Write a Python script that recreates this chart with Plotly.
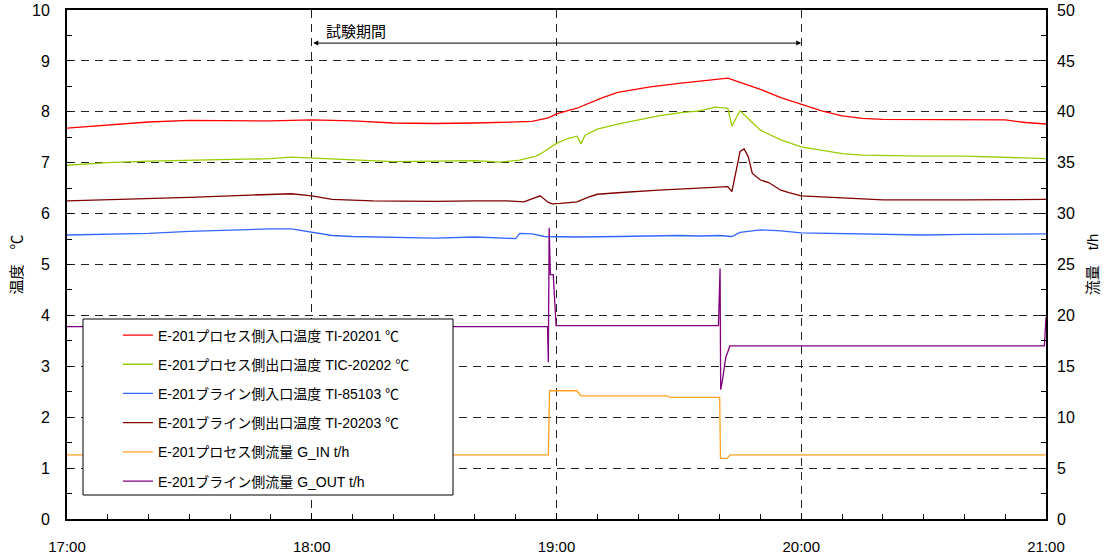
import pandas as pd
import plotly.graph_objects as go

BASE = pd.Timestamp("2023-01-01 17:00")

# --- data (minutes after 17:00, values) ---
red_min = [0,10,20,30,40,50,60,70,80,90,100,110,114,118,120,125,131,135,143,150,157,162,165,
           170,175,180,185,190,195,200,210,220,230,235,240]
red_val = [7.68,7.74,7.80,7.83,7.83,7.82,7.84,7.82,7.78,7.77,7.78,7.80,7.81,7.88,7.96,8.07,8.27,8.38,
           8.49,8.56,8.61,8.66,8.58,8.44,8.28,8.15,8.02,7.92,7.87,7.85,7.85,7.85,7.84,7.79,7.76]

green_min = [0,10,20,30,40,50,55,60,70,80,90,100,106,111,115,117,120,123,125,126,127,130,
             135,140,145,150,155,159,162,163,165,170,175,180,185,190,195,200,210,220,230,240]
green_val = [6.95,7.00,7.03,7.05,7.07,7.08,7.11,7.09,7.05,7.02,7.03,7.04,7.01,7.05,7.13,7.22,7.38,7.48,
             7.52,7.37,7.54,7.66,7.76,7.84,7.92,7.98,8.02,8.09,8.07,7.72,8.02,7.64,7.45,7.31,7.25,7.18,
             7.15,7.14,7.13,7.13,7.11,7.08]

blue_min = [0,10,20,30,40,50,55,60,65,70,80,90,100,105,110,111,114,117,125,135,140,150,155,160,
            163,165,170,175,180,190,200,210,220,230,240]
blue_val = [5.58,5.60,5.61,5.65,5.68,5.70,5.70,5.64,5.57,5.55,5.53,5.52,5.54,5.52,5.51,5.61,5.60,5.55,
            5.54,5.55,5.56,5.57,5.56,5.57,5.55,5.63,5.68,5.66,5.62,5.61,5.59,5.58,5.59,5.60,5.60]

dred_min = [0,10,20,30,40,50,55,60,65,75,90,100,108,112,115,116,118,119,121,125,128,130,135,140,
            145,150,155,160,162,163,165,166,167,168,170,172,175,177,180,185,190,195,200,220,240]
dred_val = [6.25,6.27,6.29,6.32,6.35,6.38,6.39,6.35,6.28,6.25,6.24,6.25,6.25,6.23,6.33,6.35,6.22,6.19,
            6.20,6.23,6.33,6.38,6.41,6.44,6.46,6.48,6.50,6.52,6.53,6.43,7.22,7.27,7.12,6.79,6.66,6.61,
            6.46,6.41,6.35,6.33,6.31,6.29,6.27,6.27,6.28]

gin_min = [0,118.0,118.3,125.0,126.0,147.0,148.0,160.0,160.2,161.8,162.6,240]
gin_val = [6.3,6.3,12.6,12.6,12.1,12.1,11.95,11.95,5.95,5.95,6.3,6.3]

gout_min = [0,117.8,118.0,118.2,118.5,119.2,119.9,159.7,160.1,160.25,160.7,161.5,161.9,162.5,239.6,240]
gout_val = [18.9,18.9,15.4,28.6,24.0,24.0,19.0,19.0,24.6,12.7,13.7,15.9,16.3,17.0,17.0,19.8]

names = ["E-201プロセス側入口温度 TI-20201 ℃",
         "E-201プロセス側出口温度 TIC-20202 ℃",
         "E-201ブライン側入口温度 TI-85103 ℃",
         "E-201ブライン側出口温度 TI-20203 ℃",
         "E-201プロセス側流量 G_IN t/h",
         "E-201ブライン側流量 G_OUT t/h"]
colors = ["#FF0000", "#99CC00", "#3366FF", "#800000", "#FFA020", "#800080"]

def tt(m):
    return BASE + pd.to_timedelta(m, unit="m")

series = [(red_min, red_val, "y"), (green_min, green_val, "y"), (blue_min, blue_val, "y"),
          (dred_min, dred_val, "y"), (gin_min, gin_val, "y2"), (gout_min, gout_val, "y2")]

FONT = "Liberation Sans, Noto Sans CJK JP, sans-serif"

fig = go.Figure()
for i, (m, v, ax) in enumerate(series):
    fig.add_trace(go.Scatter(x=tt(m), y=v, mode="lines", name=names[i], yaxis=ax,
                             line=dict(color=colors[i], width=1.3), legendgroup=f"g{i}"))

fig.update_layout(
    width=1110, height=559,
    margin=dict(l=67, r=64, t=10, b=40, autoexpand=False),
    paper_bgcolor="white", plot_bgcolor="white",
    font=dict(family=FONT, size=15, color="black"),
    showlegend=True,
    legend=dict(x=0.052, y=0.392, xanchor="left", yanchor="top",
                bgcolor="rgba(0,0,0,0)", borderwidth=0,
                font=dict(family=FONT, size=14, color="black"),
                traceorder="grouped", tracegroupgap=8),
    xaxis=dict(type="date", range=[tt(0), tt(240)], dtick=3600000, tick0=tt(0), automargin=False,
               tickformat="%H:%M", showline=True, linecolor="black", linewidth=2, mirror=True,
               ticks="inside", ticklen=6, tickcolor="black",
               showgrid=True, gridcolor="#222", gridwidth=1, griddash="8px,6px",
               minor=dict(dtick=600000, ticks="inside", ticklen=5, tickcolor="black", showgrid=False),
               ticklabelstandoff=13, tickfont=dict(size=15)),
    yaxis=dict(range=[0, 10], dtick=1, showline=True, linecolor="black", linewidth=2, mirror=True,
               ticks="inside", ticklen=5, tickcolor="black", zeroline=False, automargin=True,
               showgrid=True, gridcolor="#222", gridwidth=1, griddash="8px,6px",
               minor=dict(dtick=0.5, ticks="inside", ticklen=5, tickcolor="black", showgrid=False),
               ticklabelstandoff=12, tickfont=dict(size=16),
               title=dict(text="温度　℃", font=dict(size=15), standoff=6)),
    yaxis2=dict(range=[0, 50], dtick=5, overlaying="y", side="right", showgrid=False, zeroline=False,
                ticks="inside", ticklen=5, tickcolor="black", automargin=True,
                minor=dict(dtick=2.5, ticks="inside", ticklen=5, tickcolor="black"),
                ticklabelstandoff=10, tickfont=dict(size=16),
                title=dict(text="流量　t/h", font=dict(size=15), standoff=13)),
)

# legend box
fig.add_shape(type="rect", xref="paper", yref="paper",
              x0=(83 - 67) / 979, x1=(453 - 67) / 979, y0=(519 - 495) / 509, y1=(519 - 319) / 509,
              fillcolor="white", line=dict(color="black", width=1), layer="above")

# test period annotation
fig.add_annotation(x=tt(180), y=9.35, ax=tt(60), ay=9.35, xref="x", yref="y",
                   axref="x", ayref="y", text="", showarrow=True, arrowhead=2, arrowside="end+start",
                   arrowsize=1, arrowwidth=1, arrowcolor="black")
fig.add_annotation(x=tt(63), y=9.57, xref="x", yref="y", text="試験期間", showarrow=False,
                   xanchor="left", yanchor="middle", font=dict(family=FONT, size=15, color="black"))

fig.write_html("out.html")
